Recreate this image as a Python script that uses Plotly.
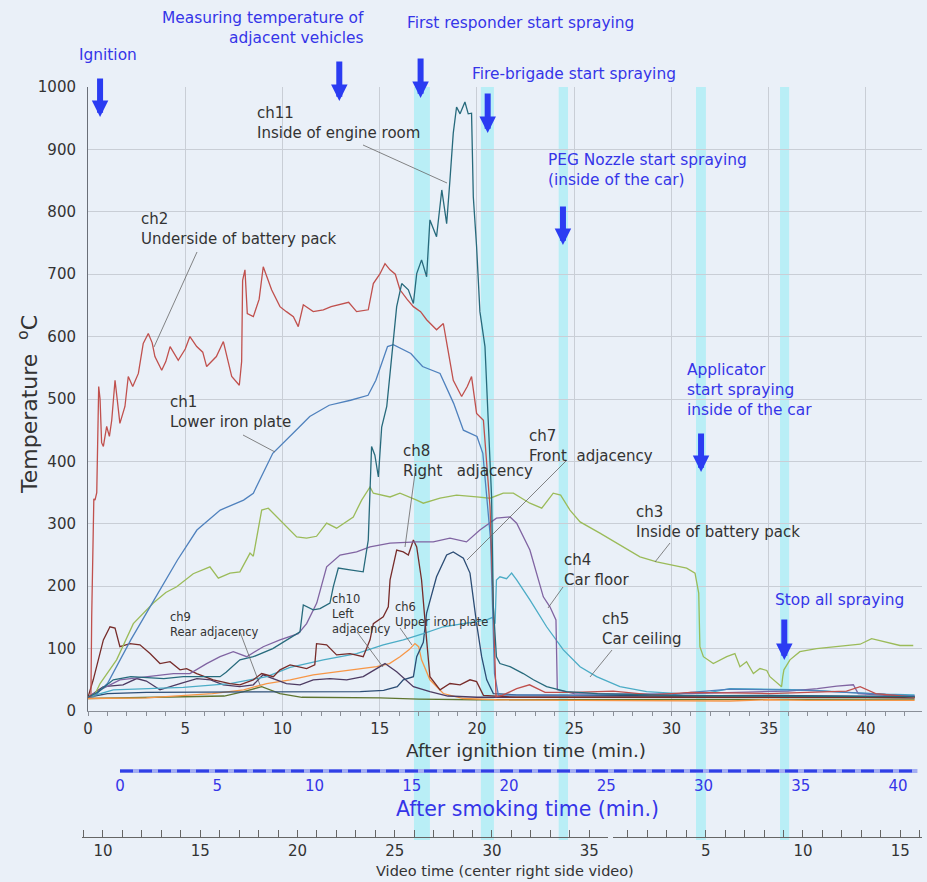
import plotly.graph_objects as go

# ---------------- data ----------------
ch1 = [(0,22),(0.3,23),(1.0,44),(2.2,114),(3.4,178),(4.6,242),(5.6,290),(6.8,322),(8.0,338),(8.5,349),
       (9.5,413),(10.2,434),(10.8,453),(11.4,472),(12.4,490),(13.5,498),(14.4,506),(14.8,530),(15.4,584),
       (15.7,587),(16.6,573),(17.2,552),(18.1,541),(18.8,493),(19.3,450),(20.0,440),(20.3,413),(20.7,274),
       (20.9,60),(21.1,25),(22,26),(25,25),(28,27),(30,26),(31,30),(33,35),(35,34),(37,33),(39,30),(41,26),(42.5,24)]
ch2 = [(0,22),(0.15,23),(0.19,151),(0.3,340),(0.36,338),(0.45,350),(0.55,520),(0.62,500),(0.7,430),(0.79,424),
       (0.96,456),(1.1,440),(1.22,466),(1.39,530),(1.5,500),(1.64,461),(1.9,488),(2.07,536),(2.3,520),(2.59,541),
       (2.84,589),(3.1,605),(3.3,590),(3.44,568),(3.79,546),(4.0,560),(4.22,584),(4.64,562),(5.0,580),(5.24,600),
       (5.59,584),(5.9,575),(6.1,552),(6.6,568),(6.96,592),(7.2,560),(7.39,536),(7.78,522),(7.9,560),(7.95,690),
       (8.07,707),(8.19,637),(8.5,632),(8.8,660),(9.01,712),(9.44,675),(9.87,648),(10.2,640),(10.56,632),(10.81,616),
       (11.07,651),(11.58,640),(12.1,643),(12.5,648),(12.96,651),(13.4,655),(13.81,640),(14.41,643),(14.67,685),
       (15.0,700),(15.27,717),(15.53,707),(15.8,700),(16.04,675),(16.4,660),(16.73,648),(17.1,640),(17.41,627),
       (17.92,611),(18.27,621),(18.5,580),(18.78,530),(19.21,504),(19.5,520),(19.72,536),(19.98,477),(20.33,466),
       (20.67,327),(20.84,167),(20.98,23),(21.3,25),(22.04,36),(22.7,42),(23.5,30),(25,30),(27,32),(29,26),(31,30),
       (33,29),(35,28),(37,30),(39,32),(39.7,39),(40.5,28),(42.5,22)]
ch3 = [(0,22),(0.3,23),(0.62,44),(1.47,82),(2.33,140),(3.36,173),(4.0,190),(4.56,199),(5.41,220),(6.27,231),
       (6.7,213),(7.3,221),(7.81,223),(8.1,240),(8.33,253),(8.5,248),(8.93,322),(9.27,325),(9.87,306),(10.39,290),
       (10.73,279),(11.24,277),(11.75,280),(12.27,301),(12.78,293),(13.64,311),(14.07,338),(14.5,359),(14.67,349),
       (15.53,343),(16.04,349),(16.9,338),(17.24,333),(18.1,341),(18.95,346),(19.98,343),(20.67,341),(21.35,349),
       (21.87,349),(22.72,333),(23.33,325),(23.92,349),(24.3,346),(24.78,322),(25.3,303),(26.32,285),(27.18,269),
       (28.38,247),(29.24,239),(30.09,234),(30.78,229),(31.21,221),(31.4,189),(31.46,103),(31.64,87),(32.15,76),
       (32.5,82),(32.84,87),(33.26,92),(33.52,71),(33.86,79),(34.21,60),(34.55,68),(34.9,65),(35.06,55),(35.66,39),
       (35.72,55),(35.78,66),(36.09,82),(36.6,95),(37.46,100),(38.3,103),(39.2,106),(39.7,107),(40.29,116),
       (40.9,111),(41.75,105),(42.43,105)]
ch4 = [(0,22),(0.7,35),(1.64,50),(3.0,55),(4.39,60),(5.24,60),(6.1,76),(6.79,87),(7.47,95),(8.16,87),(9.01,103),
       (9.87,114),(10.39,119),(10.81,124),(11.24,140),(11.76,173),(12.27,231),(12.96,250),(13.81,255),(14.5,263),
       (15.53,269),(16.9,271),(17.75,271),(18.61,277),(19.46,271),(20.15,290),(21.0,309),(21.7,311),(22.04,301),
       (22.72,258),(23.41,183),(23.75,167),(24.06,146),(24.13,34),(25,28),(28,27),(31,28),(34,30),(36,32),
       (37.5,36),(38.5,40),(39.35,42),(39.6,28),(41,25),(42.5,24)]
ch5 = [(0,22),(1.3,34),(4.9,38),(7.3,44),(9.19,55),(10.39,70),(12.1,82),(13.81,92),(15.18,106),(16.21,114),
       (17.24,124),(18.27,135),(19.3,140),(20.5,146),(20.8,150),(20.93,140),(21.0,210),(21.18,215),(21.52,212),
       (21.78,221),(22.04,210),(22.72,178),(23.58,135),(24.44,98),(25.3,71),(26.15,55),(27.35,39),(28.72,31),
       (30.4,28),(32,30),(33,36),(35,35),(37,34),(39,30),(41,27),(42.5,26)]
ch6 = [(0,20),(3,21),(6.4,28),(8,34),(9.19,44),(10.4,50),(11.58,58),(12.1,60),(13.81,66),(14.84,71),(15.5,76),
       (16.04,87),(16.5,98),(16.81,108),(17.0,103),(17.15,82),(17.58,50),(18.27,28),(19.3,20),(21,18),(25,17),
       (30,17),(33,16),(35,18),(37,17),(42.5,17)]
ch7 = [(0,22),(1,28),(3,30),(6,30),(9,30),(12,30),(14,31),(15.2,33),(15.9,39),(16.21,50),(16.73,55),(16.9,87),
       (17.24,110),(17.41,157),(17.92,215),(18.44,250),(18.78,255),(19.3,245),(19.64,221),(19.98,140),(20.24,87),
       (20.5,50),(20.84,28),(22,26),(25,25),(30,24),(35,25),(40,24),(42.5,23)]
ch8 = [(0,22),(0.27,50),(0.79,114),(1.13,135),(1.39,133),(1.64,103),(2.16,108),(2.67,106),(3.19,92),(3.7,76),
       (4.22,79),(4.73,66),(5.07,68),(5.59,60),(6.44,50),(7.3,44),(7.81,42),(8.5,50),(8.93,60),(9.53,55),(9.87,66),
       (10.39,74),(11.24,68),(11.66,74),(11.75,108),(12.27,106),(12.78,90),(13.47,92),(14.15,87),(14.5,114),
       (14.67,140),(15.18,151),(15.44,167),(15.53,210),(15.87,258),(16.21,255),(16.47,250),(16.73,274),(16.9,263),
       (17.15,210),(17.41,114),(17.58,55),(18.1,34),(18.61,44),(19.13,42),(19.64,50),(19.98,47),(20.33,25),
       (22,22),(30,22),(35,23),(40,22),(42.5,21)]
ch9 = [(0,20),(2,21),(5,22),(7,24),(8.0,31),(8.93,39),(9.87,28),(11,22),(15,21),(17,19),(20,18),(25,18),
       (30,18),(35,19),(42.5,19)]
ch10 = [(0,22),(0.79,39),(1.8,42),(2.5,52),(3.0,48),(3.7,34),(4.73,44),(5.6,52),(6.3,50),(6.96,42),(7.8,39),
        (8.5,42),(9.0,58),(9.5,52),(10.2,44),(10.9,42),(11.58,50),(12.44,52),(13.3,50),(14.15,55),(15.0,71),
        (15.27,76),(15.87,63),(16.73,39),(17.58,31),(18.5,24),(20,22),(25,22),(30,21),(35,22),(42.5,22)]
ch11 = [(0,22),(0.5,30),(1.3,50),(2.2,55),(3.9,52),(4.9,55),(6.79,55),(7.1,62),(7.81,82),(8.5,87),(9.5,100),
        (10.21,114),(10.9,127),(11.07,170),(11.58,162),(11.93,164),(12.44,173),(12.61,199),(12.87,229),(13.47,226),
        (14.15,223),(14.41,274),(14.58,424),(14.75,410),(14.93,375),(15.1,455),(15.36,488),(15.53,541),(15.87,648),
        (16.13,685),(16.47,675),(16.73,653),(16.9,701),(17.15,723),(17.41,696),(17.58,787),(17.92,760),(18.19,835),
        (18.44,781),(18.61,851),(18.78,926),(18.95,968),(19.13,957),(19.38,976),(19.55,957),(19.72,958),(19.81,824),
        (19.98,744),(20.15,640),(20.41,584),(20.58,470),(20.75,343),(20.84,167),(21.0,87),(21.18,76),(21.7,71),
        (22.38,60),(22.9,50),(23.58,39),(24.6,31),(26.2,28),(30,25),(35,24),(40,24),(42.5,23)]

channel_names = ["ch9", "ch6", "ch10", "ch7", "ch5", "ch8", "ch4", "ch3", "ch1", "ch2", "ch11"]
channel_data = [ch9, ch6, ch10, ch7, ch5, ch8, ch4, ch3, ch1, ch2, ch11]
channel_colors = ["#5F7530", "#F79646", "#4D3B62", "#2C4D75", "#4BACC6", "#772C2A", "#8064A2",
                  "#9BBB59", "#4F81BD", "#C0504D", "#276A7C"]

# spraying periods (after ignition time, min.)
bands = [(16.76, 17.58), (20.2, 20.87), (24.2, 24.68), (31.26, 31.77), (35.58, 36.05)]

# event times (after ignition time, min.)
event_times = [0.62, 12.92, 17.1, 20.55, 24.42, 31.52, 35.8]

ign_ticks = list(range(0, 41, 5))
smoke_ticks = list(range(0, 41, 5))
smoke_offset = 1.645          # ignition time at smoking time 0
smoke_span = [0, 41]
video_offset = 9.23           # video time = ignition time + offset (first file)
video2_offset = 26.76         # second video file: video time = ignition time - offset
video1_ticks = list(range(9, 37))
video2_ticks = list(range(1, 17))

# ---------------- layout helpers ----------------
W, H = 927, 882
ML, MR, MT, MB = 80, 5, 87, 45
PW, PH = W - ML - MR, H - MT - MB
def fx(px): return (px - ML) / PW
def fy(py): return (MT + PH - py) / PH

X_MAX = 42.88
BLUE = "#3535e8"
ARROW = "#2b3cf2"
TXT = "#333333"
FONT = "DejaVu Sans"

fig = go.Figure()
for name, pts, col in zip(channel_names, channel_data, channel_colors):
    t, v = zip(*pts)
    fig.add_trace(go.Scatter(x=t, y=v, mode="lines", name=name,
                             line=dict(color=col, width=1.3), showlegend=False, hoverinfo="skip"))

# wedge line of smoking time axis
fig.add_trace(go.Scatter(x=smoke_span, y=[0.5, 0.5], xaxis="x2", yaxis="y2", mode="lines",
                         line=dict(color="#a4aef2", width=4), showlegend=False, hoverinfo="skip"))
fig.add_trace(go.Scatter(x=smoke_span, y=[0.5, 0.5], xaxis="x2", yaxis="y2", mode="lines",
                         line=dict(color="#3040e6", width=3, dash="13px,6px"), showlegend=False, hoverinfo="skip"))
fig.add_trace(go.Scatter(x=[], y=[], xaxis="x3", yaxis="y3", showlegend=False))
fig.add_trace(go.Scatter(x=[], y=[], xaxis="x4", yaxis="y3", showlegend=False))

shapes = []
for a, b in bands:
    shapes.append(dict(type="rect", xref="x", yref="paper", x0=a, x1=b, y0=fy(840), y1=1,
                       fillcolor="#b9eef6", line=dict(width=0), layer="below"))

leaders = [((363,145),(447,183)), ((197,252),(154,347)), ((243,435),(275,452)), ((415,473),(405,547)),
           ((567,460),(467,560)), ((670,543),(655,562)), ((563,587),(548,608)), ((612,650),(590,677)),
           ((240,632),(260,685)), ((357,632),(383,667)), ((400,628),(412,645))]
for (x0, y0), (x1, y1) in leaders:
    shapes.append(dict(type="line", xref="paper", yref="paper", x0=fx(x0), y0=fy(y0), x1=fx(x1), y1=fy(y1),
                       line=dict(color="#666666", width=0.8)))

ann = []
# event arrows: (tip y px, tail y px)
arrow_px = [(117, 77), (101, 60), (98, 57), (133, 92), (245, 205), (472, 432), (660, 618)]
for t, (tip, tail) in zip(event_times, arrow_px):
    ann.append(dict(x=t, y=fy(tip), xref="x", yref="paper", ax=0, ay=-(tip - tail), text="",
                    showarrow=True, arrowhead=2, arrowwidth=6, arrowsize=0.55, arrowcolor=ARROW, standoff=0))

def txt(text, px, py, size, color, xanchor="left", align="left"):
    ann.append(dict(x=fx(px), y=fy(py), xref="paper", yref="paper", text=text, showarrow=False,
                    xanchor=xanchor, yanchor="middle", align=align,
                    font=dict(family=FONT, size=size, color=color)))

BS = 15.4
txt("Ignition", 108, 55, BS, BLUE, "center", "center")
txt("Measuring temperature of<br>adjacent vehicles", 366, 28, BS, BLUE, "right", "right")
txt("First responder start spraying", 405, 23, BS, BLUE)
txt("Fire-brigade start spraying", 470, 74, BS, BLUE)
txt("PEG Nozzle start spraying<br>(inside of the car)", 546, 170, BS, BLUE)
txt("Applicator<br>start spraying<br>inside of the car", 685, 390, BS, BLUE)
txt("Stop all spraying", 773, 600, BS, BLUE)

CS = 15
txt("ch11<br>Inside of engine room", 255, 123, CS, TXT)
txt("ch2<br>Underside of battery pack", 139, 229, CS, TXT)
txt("ch1<br>Lower iron plate", 168, 412, CS, TXT)
txt("ch8<br>Right   adjacency", 401, 461, CS, TXT)
txt("ch7<br>Front  adjacency", 527, 446, CS, TXT)
txt("ch3<br>Inside of battery pack", 634, 522, CS, TXT)
txt("ch4<br>Car floor", 562, 570, CS, TXT)
txt("ch5<br>Car ceiling", 600, 629, CS, TXT)
txt("ch9<br>Rear adjacency", 168, 624, 11.5, TXT)
txt("ch10<br>Left<br>adjacency", 330, 614, 11.5, TXT)
txt("ch6<br>Upper iron plate", 393, 614, 11.5, TXT)

txt("After ignithion time (min.)", 526, 750, 18.5, TXT, "center", "center")
txt("After smoking time (min.)", 527, 809, 20.5, BLUE, "center", "center")
txt("Video time (center right side video)", 505, 871, 14.5, TXT, "center", "center")
ann.append(dict(x=fx(28), y=fy(405), xref="paper", yref="paper", text="Temperature  <sup>o</sup>C",
                showarrow=False, textangle=-90, xanchor="center", yanchor="middle",
                font=dict(family=FONT, size=22, color=TXT)))

tickfont = dict(family=FONT, size=15, color=TXT)
fig.update_layout(
    width=W, height=H, margin=dict(l=ML, r=MR, t=MT, b=MB),
    paper_bgcolor="#eaf0f8", plot_bgcolor="rgba(0,0,0,0)",
    shapes=shapes, annotations=ann,
    xaxis=dict(domain=[fx(88), 1], range=[0, X_MAX], anchor="y", tickmode="array", tickvals=ign_ticks,
               showline=True, linecolor="#8a8f98", linewidth=1, ticks="outside", ticklen=4, tickcolor="#8a8f98",
               minor=dict(dtick=1, tick0=0, ticks="outside", ticklen=4, tickcolor="#8a8f98", showgrid=False),
               showgrid=True, gridcolor="#c9ced6", zeroline=False, tickfont=tickfont),
    yaxis=dict(domain=[fy(711), 1], range=[0, 1000], dtick=100, showline=True, linecolor="#6a6f78",
               showgrid=True, gridcolor="#c9ced6", zeroline=False, ticks="", tickfont=tickfont,
               ticklabelstandoff=8),
    xaxis2=dict(domain=[fx(88), 1], range=[-smoke_offset, X_MAX - smoke_offset], anchor="y2",
                tickmode="array", tickvals=smoke_ticks, showline=False, showgrid=False, zeroline=False,
                ticks="", tickfont=dict(family=FONT, size=15, color=BLUE)),
    yaxis2=dict(domain=[fy(775), fy(767)], range=[0, 1], visible=False),
    xaxis3=dict(domain=[fx(82), fx(608)], range=[-0.308 + video_offset, 26.735 + video_offset], anchor="y3",
                tickmode="array", tickvals=video1_ticks,
                ticktext=[str(v) if v % 5 == 0 else "" for v in video1_ticks],
                showline=True, linecolor="#666", ticks="inside", ticklen=7, tickcolor="#666",
                showgrid=False, zeroline=False, tickfont=tickfont),
    xaxis4=dict(domain=[fx(613), 1], range=[26.99 - video2_offset, X_MAX - video2_offset], anchor="y3",
                tickmode="array", tickvals=video2_ticks,
                ticktext=[str(v) if v % 5 == 0 else "" for v in video2_ticks],
                showline=True, linecolor="#666", ticks="inside", ticklen=7, tickcolor="#666",
                showgrid=False, zeroline=False, tickfont=tickfont),
    yaxis3=dict(domain=[0, 0.01], range=[0, 1], visible=False),
)

fig.write_html("out.html", config={"displayModeBar": False},
               post_script="document.body.style.margin='0';document.body.style.overflow='hidden';")
